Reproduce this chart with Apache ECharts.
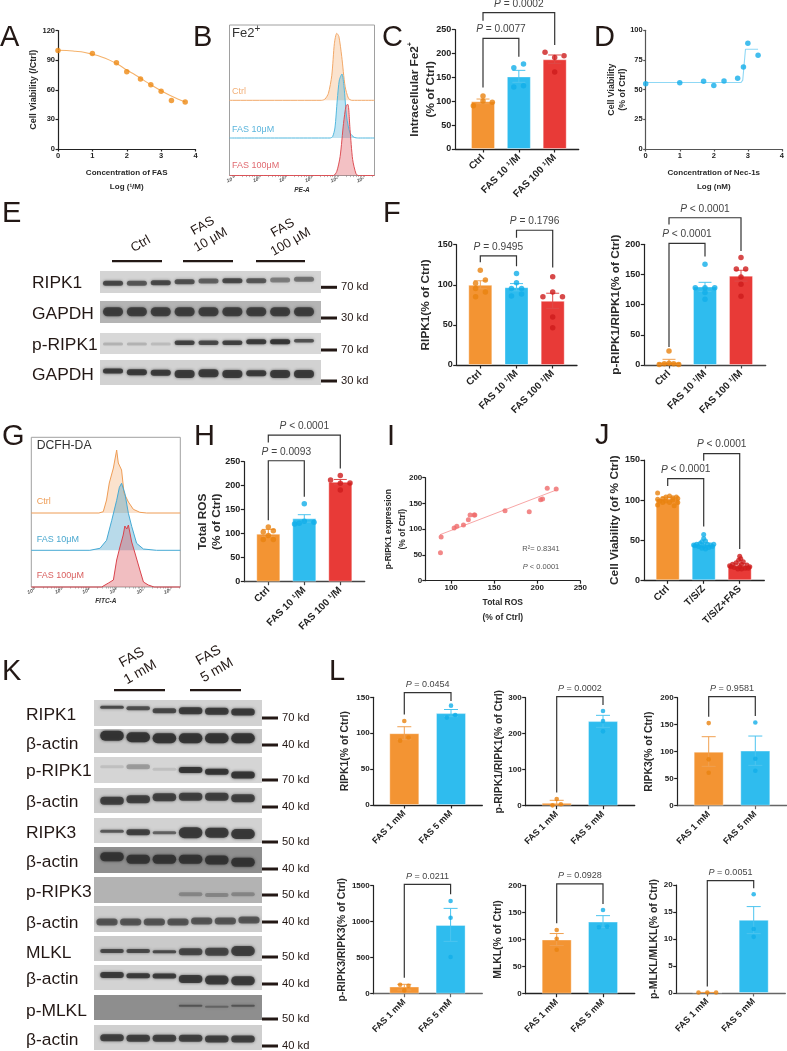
<!DOCTYPE html>
<html><head><meta charset="utf-8">
<script src="https://cdn.jsdelivr.net/npm/echarts@6/dist/echarts.min.js"></script>
<style>html,body{margin:0;padding:0;background:#fff}#c{width:787px;height:1051px}</style></head>
<body><div id="c"></div>
<script>
/* ---------- data ---------- */
const concFAS=[0,1,1.7,2,2.4,2.7,3,3.3,3.7];
const viabFAS=[99.8,96.7,87.3,78.2,70.8,65,58.6,49.2,47.5];
const fitFASx=[0,.25,.5,.75,1,1.25,1.5,1.75,2,2.25,2.5,2.75,3,3.25,3.5,3.7];
const fitFASy=[100,99.8,99,98,96,93.5,90,85.5,80,75,69.5,64,59,54.5,50.5,47.5];
const concNec=[0,1,1.7,2,2.3,2.7,2.87,3,3.3];
const viabNec=[55,55.9,57,53.4,57.3,59.6,69,89,79];
const fitNecx=[0,2.8,2.85,2.93,3.3];
const fitNecy=[56,56,58,84,84];
const catsUM=['Ctrl','FAS 10 ¹/M','FAS 100 ¹/M'];
const catsTSZ=['Ctrl','T/S/Z','T/S/Z+FAS'];
const catsMM=['FAS 1 mM','FAS 5 mM'];
const histB_Ctrl=[[3.37,0],[3.5,1.3],[3.63,7],[3.76,25],[3.86,57],[3.95,67],[4.03,64],[4.14,44],[4.27,14],[4.4,2],[4.53,0]];
const histB_10=[[3.69,0],[3.79,1.3],[3.88,10],[3.97,38],[4.05,58],[4.15,64],[4.23,51],[4.33,21],[4.46,5],[4.62,.7],[4.78,0]];
const histB_100=[[3.82,0],[3.95,4],[4.08,19],[4.21,52],[4.31,70],[4.38,71],[4.46,46],[4.56,16],[4.69,1.7],[4.78,0]];
const histG_Ctrl=[[2.35,0],[2.51,1.3],[2.63,13],[2.73,30],[2.88,45],[3,63],[3.06,50],[3.18,43],[3.27,20],[3.43,11],[3.61,3.7],[3.85,.7],[4.1,0]];
const histG_10=[[2.02,0],[2.39,2],[2.63,10],[2.82,30],[3,50],[3.1,63],[3.18,67],[3.3,57],[3.43,37],[3.55,24],[3.73,7],[3.98,1.3],[4.46,0]];
const histG_100=[[2.45,0],[2.7,4],[2.88,7],[3,27],[3.12,40],[3.24,52],[3.3,61],[3.37,58],[3.43,62],[3.55,45],[3.67,34],[3.85,17],[3.98,5],[4.16,2],[4.37,0]];
const cMeans=[100,152,188], cLow=[95,139.7,179.5], cHigh=[104.7,164.8,197];
const cDots=[[1,111],[.73,90.8],[1,100.6],[1.26,97.8],[1.86,170.4],[2.13,178],[1.86,130],[2.13,132.7],[2.73,202.5],[3.26,195.5],[3,192],[3,161.3]];
const f1Means=[100,97,80], f1Low=[95,92.5,70.6], f1High=[105,101.5,89.5];
const f1Dots=[[1,118],[.87,102],[1.14,106],[.87,95.5],[1.14,91],[.87,85],[2,114],[2,102.6],[1.86,95.5],[2.14,95.5],[2.14,88.5],[1.86,86],[3,110],[3,91],[2.73,85],[3.27,85],[3,60],[3,46.5]];
const f2Means=[5,130,148], f2Low=[1,122,139], f2High=[9.4,137,157];
const f2Dots=[[1,23],[.73,1],[.87,2],[1,3],[1.13,2],[1.27,1],[2,167],[1.73,128],[2,128],[2.27,128],[2,120],[2,109],[3,178],[2.87,159],[3.13,159],[3,146],[3,134],[3,114]];
const hMeans=[100,132,208], hLow=[94,124,202], hHigh=[109,139.6,213];
const hDots=[[1,114],[.86,103.5],[1.14,106],[.86,88],[1.14,88],[1,96],[2,162.5],[1.73,120],[2.27,124],[2,126],[1.86,122],[3,221.5],[2.73,212],[3.27,205.5],[3,205],[3,191]];
const rosX=[87.6,88.4,103.5,106.6,114.3,120,122,126.7,127.5,162.6,190.7,203.9,206.2,211.6,222];
const ripkY=[54.4,84.8,102.3,105.5,108,118.4,127.5,127.5,127.5,136,134,157.3,158.6,179.3,178];
const fitRos=[[87,89.3],[222,176]];
const jMeans=[102,45,19], jLow=[100.5,43.5,17.5], jHigh=[103.5,46.5,20.5];
const jDots=[[.72,109],[.72,101],[.72,94],[.78,99],[.86,102],[.86,97],[.95,99],[.95,104],[1.05,105],[1.05,97],[1.14,103],[1.14,100],[1.18,93],[1.24,104],[1.28,102],[1.28,97],
[2,57],[2,52],[2.05,49],[1.95,48],[1.9,46],[2.1,45],[1.72,44],[1.8,45],[2.2,44],[2.28,45],[1.86,42],[2.14,41],[1.95,40],[2.05,39],[2,43],[1.76,43],[2.24,42],
[3,30],[3.03,27],[2.97,25],[3.1,23],[2.9,22],[3.05,20],[2.8,20],[3.2,19],[2.72,18],[3.28,17],[2.85,16],[3.15,15],[2.95,14],[3.05,14],[2.76,17],[3.24,15],[3,17]];
const l1Means=[100,128], l1Low=[91,123], l1High=[109,133];
const l1Dots=[[1,117],[.91,89.6],[1.09,94],[2,138.4],[1.91,121.7],[2.09,125.4]];
const l2Means=[8,235], l2Low=[2,217.6], l2High=[15,251];
const l2Dots=[[1,18.5],[.91,1],[1.09,4],[2,263],[2,235],[2,206.5]];
const l3Means=[100,102], l3Low=[72.8,74.7], l3High=[127.8,129];
const l3Dots=[[1,153],[1,85.8],[1,61],[2,154],[2,87],[2,64.8]];
const l4Means=[100,955], l4Low=[50,727], l4High=[130,1185];
const l4Dots=[[.91,125],[1.09,111],[1,46],[2,1287],[2,1055],[2,509]];
const l5Means=[100,133], l5Low=[89,122], l5High=[111,144];
const l5Dots=[[1,117.5],[1,101.5],[1,81],[2,154.5],[1.91,122.5],[2.09,123.7]];
const l6Means=[.1,13.55], l6Low=[.1,11], l6High=[.1,16];
const l6Dots=[[.81,.1],[1,.1],[1.19,.1],[2,18.3],[2,11.85],[2,10.4]];
/* band darkness per lane (0 = no band) */
const eRipk1=[.75,.65,.75,.7,.6,.75,.65,.45,.5];
const eGapdh=[.8,.8,.8,.8,.8,.8,.8,.8,.8];
const ePRipk1=[.2,.2,.15,.8,.75,.8,.85,.9,.7];
const eGapdh2=[.85,.85,.85,.85,.85,.85,.85,.85,.85];
const kRipk1=[.75,.7,.75,.85,.85,.85];
const kAct1=[.9,.9,.9,.9,.9,.9];
const kPRipk1=[.12,.3,.12,.9,.9,.9];
const kAct2=[.8,.8,.8,.8,.8,.8];
const kRipk3=[.65,.8,.6,.85,.85,.85];
const kAct3=[.9,.9,.9,.9,.9,.9];
const kPRipk3=[0,0,0,.3,.3,.3];
const kAct4=[.65,.65,.65,.65,.65,.65,.65];
const kMlkl=[.75,.75,.75,.75,.75,.8];
const kAct5=[.85,.85,.85,.85,.85,.85];
const kPMlkl=[0,0,0,.55,.4,.55];
const kAct6=[.8,.8,.8,.8,.8,.8];

/* ---------- helpers ---------- */
const FF='"Liberation Sans",Arial,sans-serif';
const ORANGE='#f39433',BLUE='#2fbcee',RED='#e83a37';
const DOT=['#e8820f','#12aee8','#cd1c1c'];
const grids=[],xAxes=[],yAxes=[],series=[],graphics=[];
function addGrid(l,t,r,b,xa,ya,gx){
  const i=grids.length;
  grids.push(Object.assign({left:l,top:t,width:r-l,height:b-t,containLabel:false},gx||{}));
  xAxes.push(Object.assign({gridIndex:i,type:'value',splitLine:{show:false},axisPointer:{show:false}},xa));
  yAxes.push(Object.assign({gridIndex:i,type:'value',splitLine:{show:false},axisPointer:{show:false}},ya));
  return i;
}
function line(c,w){return {show:true,onZero:false,lineStyle:{color:c||'#222',width:w||1.2}};}
function tick(c,len,w){return {show:true,length:len||3,lineStyle:{color:c||'#222',width:w||1.2}};}
function lab(fs,extra){return Object.assign({show:true,fontFamily:FF,fontWeight:'bold',fontSize:fs,color:'#222',margin:3,formatter:v=>String(v)},extra||{});}
function nameStyle(fs,lh){return {fontFamily:FF,fontWeight:'bold',fontSize:fs,color:'#2a2a2a',lineHeight:lh||fs+2};}
function text(x,y,t,o){
  graphics.push({type:'text',x:x,y:y,rotation:o&&o.rot||0,z:20,silent:true,style:Object.assign({text:t,fontFamily:FF,fontSize:o&&o.fs||10,fontWeight:o&&o.fw||'normal',fontStyle:o&&o.it?'italic':'normal',fill:o&&o.c||'#222',align:o&&o.al||'left',verticalAlign:'middle',lineHeight:o&&o.lh||undefined},o&&o.rich?{rich:o.rich}:{})});
}
function rectG(x,y,w,h,c){graphics.push({type:'rect',z:19,silent:true,shape:{x,y,width:w,height:h},style:{fill:c||'#231815'}});}

function barPanel(p){
  const n=p.cats.length,d=p.d;
  const xmin=1-(p.c1-p.L)/d,xmax=1+(p.R-p.c1)/d;
  const vals=p.cats.map((_,i)=>i+1);
  const gi=addGrid(p.L,p.T,p.R,p.B,{
    min:xmin,max:xmax,
    axisLine:line(p.xc||'#222',p.xw||1.3),axisTick:Object.assign(tick(p.xc||'#222',3.5),{customValues:vals}),
    axisLabel:lab(p.xfs||10,{rotate:45,customValues:vals,margin:7,formatter:v=>p.cats[Math.round(v)-1]})
  },{
    min:0,max:p.ymax,interval:p.int,
    axisLine:line('#222',1.2),axisTick:tick('#222',3.5),axisLabel:lab(p.yfs||9,{margin:4}),
    name:p.title,nameLocation:'middle',nameRotate:90,nameGap:p.gap,nameMoveOverlap:false,
    nameTextStyle:Object.assign(nameStyle(p.tfs||11.8,p.tlh),p.rich?{rich:p.rich}:{})
  });
  const cols=p.colors||[ORANGE,BLUE,RED];
  series.push({type:'bar',xAxisIndex:gi,yAxisIndex:gi,barWidth:p.bw,silent:true,
    data:p.means.map((m,i)=>({value:[i+1,m],itemStyle:{color:cols[i],borderColor:'rgba(255,255,255,.35)',borderWidth:1}}))});
  series.push({type:'custom',xAxisIndex:gi,yAxisIndex:gi,silent:true,clip:false,z:3,
    encode:{x:0,y:[1,2]},
    data:p.means.map((m,i)=>[i+1,p.low[i],p.high[i]]),
    renderItem:(par,api)=>{
      const a=api.coord([api.value(0),api.value(1)]),b=api.coord([api.value(0),api.value(2)]);
      const c=(p.ecols||['#f0a050','#4cc4ef','#dd4a48'])[par.dataIndex],h=p.cap||6.5;
      const st={stroke:c,lineWidth:1,fill:null};
      return {type:'group',children:[
        {type:'line',shape:{x1:a[0],y1:a[1],x2:b[0],y2:b[1]},style:st},
        {type:'line',shape:{x1:a[0]-h,y1:a[1],x2:a[0]+h,y2:a[1]},style:st},
        {type:'line',shape:{x1:b[0]-h,y1:b[1],x2:b[0]+h,y2:b[1]},style:st}]};
    }});
  series.push({type:'scatter',xAxisIndex:gi,yAxisIndex:gi,silent:true,z:4,clip:false,symbolSize:p.ds||5.5,
    data:p.dots.map(v=>({value:v,itemStyle:{color:DOT[Math.min(Math.round(v[0])-1,2)]}}))});
  series.push({type:'custom',xAxisIndex:gi,yAxisIndex:gi,silent:true,clip:false,z:5,
    encode:{x:0,y:2},
    data:p.br.map(b=>b.slice(0,5)),
    renderItem:(par,api)=>{
      const x1=api.value(0),x2=api.value(1),t=api.value(2),lb=api.value(3),rb=api.value(4);
      const P=[api.coord([x1,lb]),api.coord([x1,t]),api.coord([x2,t]),api.coord([x2,rb])];
      const txt=p.br[par.dataIndex][5];
      return {type:'group',children:[
        {type:'polyline',shape:{points:P},style:{stroke:'#333',lineWidth:1.2,fill:null}},
        {type:'text',x:(P[1][0]+P[2][0])/2,y:P[1][1]-(p.pgap||9),style:{
          text:'{i|P}{n| '+txt+'}',align:'center',verticalAlign:'middle',
          rich:{i:{fontFamily:FF,fontStyle:'italic',fontSize:p.pfs||10.2,fill:'#444',color:'#444'},n:{fontFamily:FF,fontSize:p.pfs||10.2,fill:'#444',color:'#444'}}}}
      ]};
    }});
}
function dec(v){return '10'+'⁰¹²³⁴⁵'[v];}
function histBox(L,T,R,B,xmin,xmax,name,tickY){
  const majors=[0,1,2,3,4,5];
  const minors=[];
  majors.forEach(m=>[2,3,4,5,6,7,8,9].forEach(k=>{const v=m+Math.log10(k);if(v<xmax)minors.push(v);}));
  return addGrid(L,T,R,B,{min:xmin,max:xmax,
    axisLine:{show:false},
    axisTick:{show:true,length:1.6,customValues:majors.concat(minors),lineStyle:{color:'#888',width:.6}},
    axisLabel:{show:true,customValues:majors,formatter:v=>dec(Math.round(v)),fontFamily:FF,fontSize:5,fontStyle:'italic',fontWeight:'bold',color:'#555',rotate:20,margin:3},
    name:name,nameLocation:'middle',nameGap:tickY,nameMoveOverlap:false,
    nameTextStyle:{fontFamily:FF,fontStyle:'italic',fontWeight:'bold',fontSize:6.5,color:'#333'}
  },{min:0,max:1,axisLine:{show:false},axisTick:{show:false},axisLabel:{show:false}},
  {show:true,borderColor:'#a0a0a0',borderWidth:1,backgroundColor:'#fff'});
}
function hist(L,T,R,base,xmin,xmax,data,lc,fc,smooth){
  const gi=addGrid(L,T,R,base,{min:xmin,max:xmax,show:false},{min:0,max:base-T,show:false});
  series.push({type:'line',xAxisIndex:gi,yAxisIndex:gi,silent:true,clip:false,showSymbol:false,smooth:smooth,
    data:[[xmin,0]].concat(data,[[xmax,0]]),
    lineStyle:{color:lc,width:1},areaStyle:{color:fc,origin:'start'},z:2});
}
function blot(cfg,row){
  const n=row.d.length;
  const f=n===cfg.lanes?cfg.first:cfg.first7, l=n===cfg.lanes?cfg.lastLane:cfg.last7;
  const sp=(l-f)/(n-1);
  const xmin=1-(f-cfg.L)/sp,xmax=n+(cfg.R-l)/sp;
  const gi=addGrid(cfg.L,row.t,cfg.R,row.b,{min:xmin,max:xmax,show:false},{min:row.t,max:row.b,inverse:true,show:false},
    {show:true,backgroundColor:row.bg,borderWidth:0});
  series.push({type:'custom',xAxisIndex:gi,yAxisIndex:gi,silent:true,clip:true,z:2,
    encode:{x:0,y:1},
    data:row.d.map((v,i)=>[i+1,Array.isArray(row.y)?row.y[i]:row.y,v,Array.isArray(row.h)?row.h[i]:row.h]).filter(r=>r[2]>0),
    renderItem:(par,api)=>{
      const c=api.coord([api.value(0),api.value(1)]);
      const dk=api.value(2),h=api.value(3);
      const col='rgba(48,48,48,'+dk+')',w=sp*cfg.bw;
      return {type:'rect',shape:{x:c[0]-w,y:c[1]-h/2,width:2*w,height:h,r:h/2},style:{fill:col,shadowBlur:3,shadowColor:col}};
    }});
  text(row.lx!==undefined?row.lx:cfg.labelX,row.ly,row.name,{fs:17.4,c:'#231815'});
  rectG(cfg.R,row.my-1.5,16,3);
  text(cfg.R+20,row.my,row.kd,{fs:11.2,c:'#231815'});
}
function panelLetter(x,y,t){text(x,y,t,{fs:29,c:'#231815'});}

/* ---------- panel A ---------- */
{
 const g=addGrid(58,30.5,195.5,149,{min:0,max:4,interval:1,axisLine:line(),axisTick:tick('#222',2.5),axisLabel:lab(7.5),
   name:'Concentration of FAS\nLog (¹/M)',nameLocation:'middle',nameGap:17,nameMoveOverlap:false,nameTextStyle:nameStyle(8,14)},
   {min:0,max:120,interval:30,axisLine:line(),axisTick:tick('#222',2.5),axisLabel:lab(7.5),
   name:'Cell Viability (/Ctrl)',nameLocation:'middle',nameRotate:90,nameGap:19,nameMoveOverlap:false,nameTextStyle:nameStyle(9)});
 series.push({type:'line',xAxisIndex:g,yAxisIndex:g,silent:true,showSymbol:false,smooth:.4,data:fitFASx.map((x,i)=>[x,fitFASy[i]]),lineStyle:{color:'#f5b26b',width:1.1},z:2});
 series.push({type:'scatter',xAxisIndex:g,yAxisIndex:g,silent:true,clip:false,symbolSize:5.5,data:concFAS.map((x,i)=>[x,viabFAS[i]]),itemStyle:{color:'#ee8a14'},z:3});
}
/* ---------- panel B ---------- */
{
 const xmin=-.17,xmax=5.4;
 histBox(229.5,25,374.5,175.5,xmin,xmax,'PE-A',11);
 hist(229.5,25,374.5,100.3,xmin,xmax,histB_Ctrl,'#f2a868','rgba(242,160,90,.42)',.25);
 hist(229.5,25,374.5,138,xmin,xmax,histB_10,'#52b8de','rgba(60,170,215,.45)',.25);
 hist(229.5,25,374.5,175.5,xmin,xmax,histB_100,'#dd4f55','rgba(218,60,70,.45)',.25);
 text(232,33,'Fe2{s|+}',{fs:13,c:'#333',rich:{s:{fontSize:10,verticalAlign:'top',fontFamily:FF,fill:'#333',padding:[0,0,8,0]}}});
 text(232,92,'Ctrl',{fs:9,c:'#f2b078'});
 text(232,130,'FAS 10μM',{fs:9,c:'#5bb5dc'});
 text(232,165.7,'FAS 100μM',{fs:9,c:'#e06a70'});
}
/* ---------- panel C ---------- */
barPanel({L:455.3,R:578.7,T:29.7,B:149,ymax:250,int:50,c1:483,d:35.85,bw:24,cats:catsUM,means:cMeans,low:cLow,high:cHigh,dots:cDots,
 title:'{t|Intracellular Fe2}{s|+}\n{t|(% of Ctrl)}',gap:17,tlh:16,
 rich:{t:{fontFamily:FF,fontWeight:'bold',fontSize:11.8,color:'#2a2a2a',lineHeight:16},s:{fontFamily:FF,fontWeight:'bold',fontSize:7,color:'#2a2a2a',verticalAlign:'top',lineHeight:16}},
 br:[[1,2,231.8,129,193.4,'= 0.0077'],[1,3,285.6,269,218,'= 0.0002']]});
/* ---------- panel D ---------- */
{
 const g=addGrid(645.7,30.3,783.7,149,{min:0,max:4,interval:1,axisLine:line('#555'),axisTick:tick('#555',2.5),axisLabel:lab(7.5),
   name:'Concentration of Nec-1s\nLog (nM)',nameLocation:'middle',nameGap:17,nameMoveOverlap:false,nameTextStyle:nameStyle(8,14)},
   {min:0,max:100,interval:25,axisLine:line('#555'),axisTick:tick('#555',2.5),axisLabel:lab(7.5),
   name:'Cell Viability\n(% of Ctrl)',nameLocation:'middle',nameRotate:90,nameGap:18,nameMoveOverlap:false,nameTextStyle:nameStyle(8.8,10.5)});
 series.push({type:'line',xAxisIndex:g,yAxisIndex:g,silent:true,showSymbol:false,data:fitNecx.map((x,i)=>[x,fitNecy[i]]),lineStyle:{color:'#8fd8f5',width:1.1},z:2});
 series.push({type:'scatter',xAxisIndex:g,yAxisIndex:g,silent:true,clip:false,symbolSize:5.5,data:concNec.map((x,i)=>[x,viabNec[i]]),itemStyle:{color:'#14aeea'},z:3});
}
/* ---------- panel E ---------- */
const cfgE={L:100,R:321,lanes:9,first:113,lastLane:304,labelX:32,bw:.42};
[{name:'RIPK1',t:271,b:293,bg:'#d4d4d4',d:eRipk1,y:[283.3,283.3,282.7,281.7,281,280.7,280.7,280,279.3],h:5,ly:283,my:287.3,kd:'70 kd'},
 {name:'GAPDH',t:301,b:323,bg:'#b4b4b4',d:eGapdh,y:311.7,h:9,ly:314,my:318,kd:'30 kd'},
 {name:'p-RIPK1',t:333,b:354,bg:'#d8d8d8',d:ePRipk1,y:[344,344,344,342.7,342.7,342.7,341.7,341.7,340.7],h:[3,3,3,4.5,4.5,4.5,5,5,3.5],ly:345.5,my:350,kd:'70 kd'},
 {name:'GAPDH',t:360,b:385,bg:'#d2d2d2',d:eGapdh2,y:[371,372.3,372.7,374,373.3,374,373.3,374,374],h:[5,6,6,8,8,8,6,8,8],ly:375,my:381,kd:'30 kd'}
].forEach(r=>blot(cfgE,r));
[[112,162],[183,233],[256,305]].forEach(b=>rectG(b[0],260,b[1]-b[0],2.2));
text(140.7,244,'Ctrl',{fs:13,al:'center',rot:.52,c:'#231815'});
text(206.7,233,'FAS\n10 μM',{fs:13,al:'center',rot:.52,lh:16,c:'#231815'});
text(286.7,235,'FAS\n100 μM',{fs:13,al:'center',rot:.52,lh:16,c:'#231815'});
/* ---------- panel F ---------- */
barPanel({L:456.7,R:577,T:244.7,B:365,ymax:150,int:50,c1:480.3,d:36.2,bw:24,cats:catsUM,means:f1Means,low:f1Low,high:f1High,dots:f1Dots,
 title:'RIPK1(% of Ctrl)',gap:24,
 br:[[1,2,136,128,123,'= 0.9495'],[2,3,168,158.7,121.7,'= 0.1796']]});
barPanel({L:644.3,R:765.7,T:244.3,B:365,ymax:200,int:50,c1:669,d:36,bw:24,cats:catsUM,means:f2Means,low:f2Low,high:f2High,dots:f2Dots,xc:'#444',
 title:'p-RIPK1/RIPK1(% of Ctrl)',gap:22,
 br:[[1,2,201.6,30,179.6,'< 0.0001'],[1,3,244,233,189,'< 0.0001']]});
/* ---------- panel G ---------- */
{
 const xmin=-.125,xmax=5.33;
 histBox(31.3,437.3,180.3,587,xmin,xmax,'FITC-A',11);
 hist(31.3,437.3,180.3,513,xmin,xmax,histG_Ctrl,'#ee9c55','rgba(240,155,85,.42)',false);
 hist(31.3,437.3,180.3,550.3,xmin,xmax,histG_10,'#45a9d4','rgba(55,150,195,.5)',false);
 hist(31.3,437.3,180.3,587,xmin,xmax,histG_100,'#d9434c','rgba(215,70,80,.5)',false);
 text(36.7,445.7,'DCFH-DA',{fs:12.2,c:'#333'});
 text(36.7,501.7,'Ctrl',{fs:9,c:'#ee9c55'});
 text(36.7,540,'FAS 10μM',{fs:9,c:'#4aa8cf'});
 text(36.7,576,'FAS 100μM',{fs:9,c:'#d96060'});
}
/* ---------- panel H ---------- */
barPanel({L:244.3,R:364.7,T:461.7,B:581.7,ymax:250,int:50,c1:268.3,d:36,bw:24,cats:catsUM,means:hMeans,low:hLow,high:hHigh,dots:hDots,xc:'#444',
 title:'Total ROS\n(% of Ctrl)',gap:20,tlh:14.5,
 br:[[1,2,252,128,177,'= 0.0093'],[1,3,305.5,290,236,'< 0.0001']]});
/* ---------- panel I ---------- */
{
 const g=addGrid(425.3,477.7,580.3,580.7,{min:70,max:250,axisLine:line(),axisTick:Object.assign(tick('#222',3),{customValues:[100,150,200,250]}),
   axisLabel:lab(8,{customValues:[100,150,200,250]}),
   name:'Total ROS\n(% of Ctrl)',nameLocation:'middle',nameGap:14.5,nameMoveOverlap:false,nameTextStyle:nameStyle(8.5,15)},
   {min:0,max:200,interval:50,axisLine:line(),axisTick:tick('#222',3),axisLabel:lab(8),
   name:'p-RIPK1 expression\n(% of Ctrl)',nameLocation:'middle',nameRotate:90,nameGap:16,nameMoveOverlap:false,nameTextStyle:nameStyle(8.5,14)});
 series.push({type:'line',xAxisIndex:g,yAxisIndex:g,silent:true,showSymbol:false,data:fitRos,lineStyle:{color:'#f8a6a6',width:1},z:2});
 series.push({type:'scatter',xAxisIndex:g,yAxisIndex:g,silent:true,clip:false,symbolSize:5,data:rosX.map((x,i)=>[x,ripkY[i]]),itemStyle:{color:'#ef6a6a'},z:3});
 text(541,548.5,'R²= 0.8341',{fs:7.5,al:'center',c:'#555'});
 text(541,566.5,'{i|P} < 0.0001',{fs:7.5,al:'center',c:'#555',rich:{i:{fontFamily:FF,fontStyle:'italic',fontSize:7.5,fill:'#555'}}});
}
/* ---------- panel J ---------- */
barPanel({L:644,R:764.3,T:460,B:580.3,ymax:150,int:50,c1:667.7,d:36,bw:24,cats:catsTSZ,means:jMeans,low:jLow,high:jHigh,dots:jDots,ds:5,
 title:'Cell Viability (of % Ctrl)',gap:22,
 br:[[1,2,126.7,117.6,67,'< 0.0001'],[2,3,158,149,39,'< 0.0001']]});
/* ---------- panel K ---------- */
const cfgK={L:94,R:262,lanes:6,first:112,lastLane:243,first7:107,last7:249,labelX:26,bw:.45};
[{name:'RIPK1',t:700,b:726,bg:'#d2d2d2',d:kRipk1,y:[707.3,708.3,710.7,710.7,711.3,712],h:[3,4,5,7,7,7],ly:715,my:718,kd:'70 kd'},
 {name:'β-actin',t:729,b:753,bg:'#c9c9c9',d:kAct1,y:[735.7,737.3,738.3,738.3,738.3,738.3],h:10,ly:744,my:745,kd:'40 kd'},
 {name:'p-RIPK1',t:757,b:783,bg:'#d5d5d5',d:kPRipk1,y:[766.7,766.7,769.3,770,771.7,775],h:[3,5,3,6,6,7],ly:771,my:780,kd:'70 kd'},
 {name:'β-actin',t:788,b:813,bg:'#cbcbcb',d:kAct2,y:[800.7,799.3,797.3,796.7,796.7,798.3],h:8,ly:802,my:807,kd:'40 kd'},
 {name:'RIPK3',t:818,b:843,bg:'#d2d2d2',d:kRipk3,y:[831.3,832.3,832.7,832.7,832.7,834],h:[3,6,3,11,10,10],ly:833,my:842,kd:'50 kd'},
 {name:'β-actin',t:847,b:873,bg:'#8f8f8f',d:kAct3,y:[856.7,859.3,859.3,859.3,860,862.3],h:9,ly:862,my:869,kd:'40 kd'},
 {name:'p-RIPK3',t:877,b:903,bg:'#b3b3b3',d:kPRipk3,y:[894.3,894.3,894.3,894.3,895,894.3],h:4,ly:892,my:895,kd:'50 kd'},
 {name:'β-actin',t:906,b:932,bg:'#cdcdcd',d:kAct4,y:[922,922,922,922,921,921,920],h:7,ly:923,my:922,kd:'40 kd'},
 {name:'MLKL',t:936,b:961,bg:'#cacaca',d:kMlkl,y:[951,951,951.7,951.7,951.7,951],h:[4,4,3,7,8,10],ly:953,my:957,kd:'50 kd'},
 {name:'β-actin',t:965,b:990,bg:'#d3d3d3',d:kAct5,y:[975,975.7,976,979,980,980.7],h:[6,5,5,8,9,9],ly:979,my:984,kd:'40 kd'},
 {name:'p-MLKL',t:995,b:1020,bg:'#8e8e8e',d:kPMlkl,y:[1005.7,1005.7,1005.7,1005.7,1006.7,1005.7],h:2,ly:1011,my:1019,kd:'50 kd'},
 {name:'β-actin',t:1025,b:1050,bg:'#cfcfcf',d:kAct6,y:[1037.7,1038.3,1038.3,1038.3,1039,1039],h:7,ly:1040,my:1046,kd:'40 kd'}
].forEach(r=>blot(cfgK,r));
[[114,165],[190,241]].forEach(b=>rectG(b[0],689,b[1]-b[0],2.2));
text(136,665,'FAS\n1 mM',{fs:14,al:'center',rot:.52,lh:17,c:'#231815'});
text(212.7,663,'FAS\n5 mM',{fs:14,al:'center',rot:.52,lh:17,c:'#231815'});
/* ---------- panel L ---------- */
const lCommon={bw:30,cats:catsMM,colors:[ORANGE,BLUE],yfs:8,xfs:9,tfs:10.4,pfs:9,ds:4.6,cap:7,pgap:8};
barPanel(Object.assign({},lCommon,{L:373.7,R:482.3,T:697.3,B:805,ymax:150,int:50,c1:404.3,d:46.7,means:l1Means,low:l1Low,high:l1High,dots:l1Dots,
 title:'RIPK1(% of Ctrl)',gap:22,br:[[1,2,156.5,126,145,'= 0.0454']]}));
barPanel(Object.assign({},lCommon,{L:525.7,R:634.7,T:697.7,B:805.7,ymax:300,int:100,c1:556.7,d:46.3,means:l2Means,low:l2Low,high:l2High,dots:l2Dots,
 title:'p-RIPK1/RIPK1(% of Ctrl)',gap:20,br:[[1,2,302.8,37,279.6,'= 0.0002']]}));
barPanel(Object.assign({},lCommon,{L:677.7,R:786.7,T:697.7,B:805.7,ymax:200,int:50,c1:708.7,d:46.6,means:l3Means,low:l3Low,high:l3High,dots:l3Dots,xc:'#666',
 title:'RIPK3(% of Ctrl)',gap:22,br:[[1,2,201.9,164.8,166,'= 0.9581']]}));
barPanel(Object.assign({},lCommon,{L:373.7,R:482.3,T:885.7,B:993.7,ymax:1500,int:500,c1:404.3,d:46.3,means:l4Means,low:l4Low,high:l4High,dots:l4Dots,xc:'#666',
 title:'p-RIPK3/RIPK3(% of Ctrl)',gap:25,br:[[1,2,1518,222,1380,'= 0.0211']]}));
barPanel(Object.assign({},lCommon,{L:525.7,R:634.7,T:885.3,B:993.7,ymax:200,int:50,c1:556.7,d:46.3,means:l5Means,low:l5Low,high:l5High,dots:l5Dots,
 title:'MLKL(% of Ctrl)',gap:21,br:[[1,2,202.5,130,165.5,'= 0.0928']]}));
barPanel(Object.assign({},lCommon,{L:676.7,R:785.3,T:885,B:993,ymax:20,int:5,c1:707.3,d:46.4,means:l6Means,low:l6Low,high:l6High,dots:l6Dots,xc:'#666',
 title:'p-MLKL/MLKL(% of Ctrl)',gap:16,br:[[1,2,20.8,1.2,19.4,'= 0.0051']]}));
/* ---------- letters ---------- */
[[0,38,'A'],[193,38,'B'],[382,38,'C'],[594,38,'D'],[2,214,'E'],[383,214,'F'],[2,437,'G'],[194,437,'H'],[387,437,'I'],[595,436,'J'],[2,672,'K'],[329,672,'L']]
 .forEach(l=>panelLetter(l[0],l[1],l[2]));

const chart=echarts.init(document.getElementById('c'),null,{renderer:'canvas',width:787,height:1051});
chart.setOption({animation:false,backgroundColor:'#fff',grid:grids,xAxis:xAxes,yAxis:yAxes,series:series,graphic:graphics,tooltip:{show:false},legend:{show:false}});
</script></body></html>
